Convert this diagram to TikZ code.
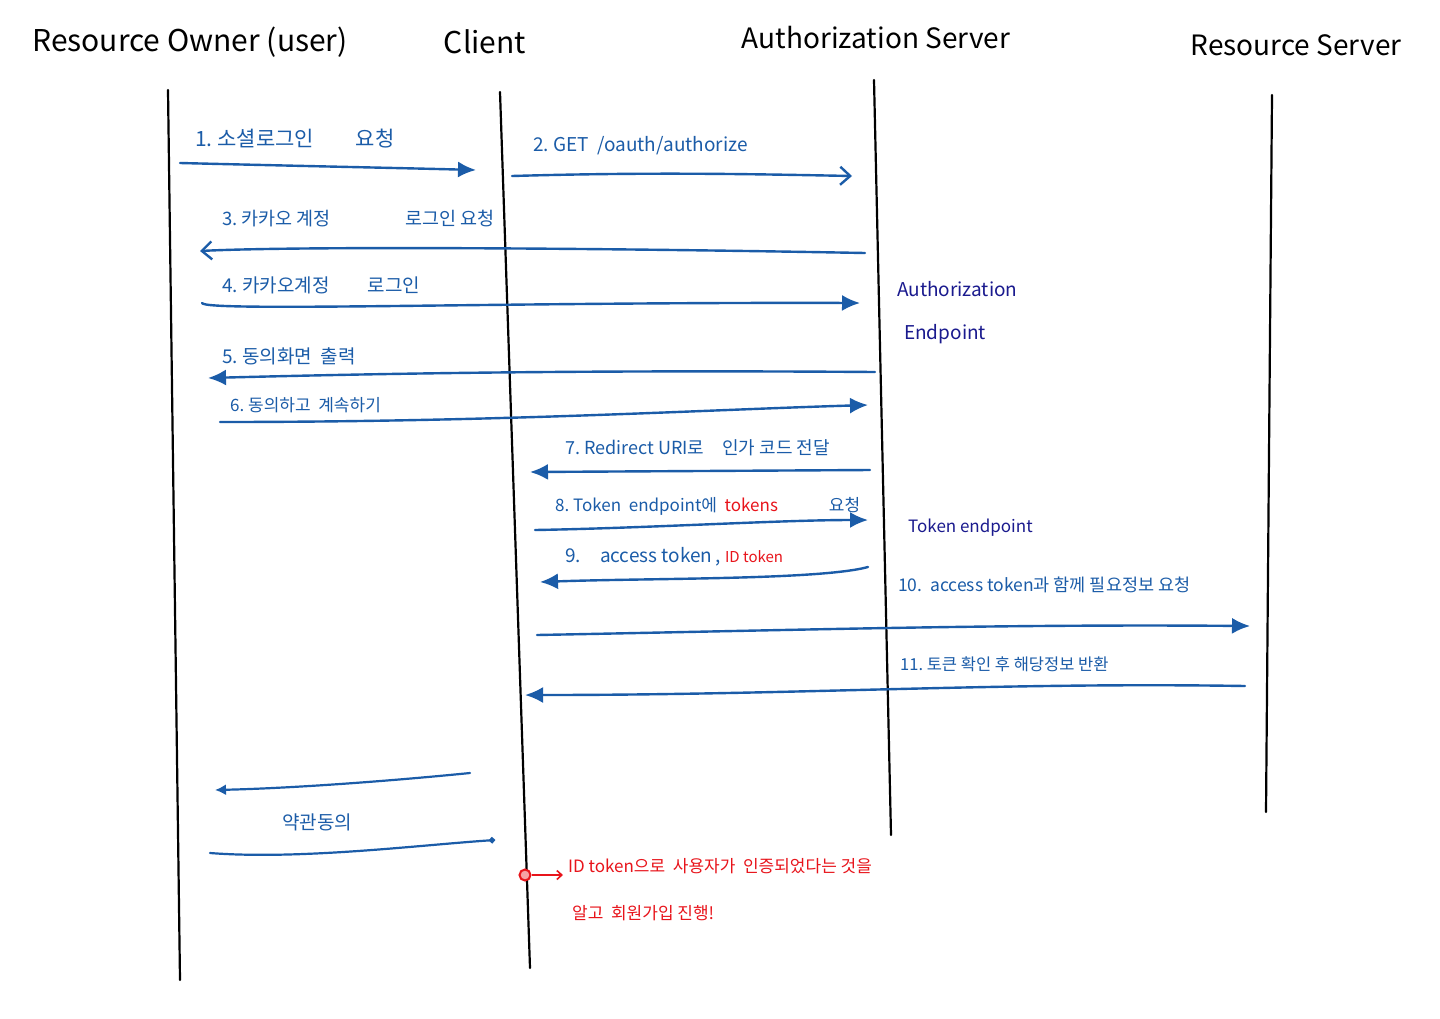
\documentclass[tikz,border=0pt]{standalone}
\usepackage{fontspec}
\setmainfont{Noto Sans CJK KR}
\usetikzlibrary{arrows.meta}
\definecolor{penblue}{HTML}{1B5CA8}
\definecolor{pennavy}{HTML}{1A1A8E}
\definecolor{penred}{HTML}{E8141B}
\tikzset{
  life/.style={draw=black, line width=2.2pt, line cap=round},
  msg/.style={draw=penblue, line width=2.4pt, line cap=round, -{Latex[length=18pt,width=16pt,fill=penblue]}},
  msgopen/.style={draw=penblue, line width=2.4pt, line cap=round, -{Straight Barb[length=10pt,width=18pt]}},
  head/.style={text=black, font=\fontsize{30}{34}\selectfont, inner sep=0pt},
  lbl/.style={text=penblue, font=\fontsize{19}{22}\selectfont, anchor=west, inner sep=0pt},
  side/.style={text=pennavy, font=\fontsize{19}{22}\selectfont, anchor=west, inner sep=0pt},
  redtxt/.style={text=penred, font=\fontsize{17}{20}\selectfont, anchor=west, inner sep=0pt},
}
\begin{document}
\begin{tikzpicture}[x=1pt,y=-1pt]
\useasboundingbox (0,0) rectangle (1440,1018);
\fill[white] (0,0) rectangle (1440,1018);

% headers
\node[head] (hRO) at (190,42) {Resource Owner (user)};
\node[head] (hC) at (485,42) {Client};
\node[head, font=\fontsize{28}{32}\selectfont] (hAS) at (876,38) {Authorization Server};
\node[head, font=\fontsize{28}{32}\selectfont] (hRS) at (1296,45) {Resource Server};

% lifelines
\coordinate (RO1) at (168,90); \coordinate (RO2) at (180,980);
\coordinate (C1) at (500,92); \coordinate (C2) at (530,968);
\coordinate (AS1) at (874,80); \coordinate (AS2) at (891,835);
\coordinate (RS1) at (1272,95); \coordinate (RS2) at (1266,812);
\draw[life] (RO1) -- (RO2);
\draw[life] (C1) -- (C2);
\draw[life] (AS1) -- (AS2);
\draw[life] (RS1) -- (RS2);

% 1
\coordinate (a1s) at (180,163); \coordinate (a1e) at (476,170);
\draw[msg] (a1s) .. controls (300,166) and (400,168) .. (a1e);
\node[lbl, font=\fontsize{21}{24}\selectfont] (l1) at (195,139) {1.\ 소셜로그인\qquad 요청};
% 2
\coordinate (a2s) at (512,176); \coordinate (a2e) at (852,176);
\draw[msgopen] (a2s) .. controls (650,172) and (750,174) .. (a2e);
\node[lbl] (l2) at (533,146) {2.\ GET\ \ /oauth/authorize};
% 3
\coordinate (a3s) at (865,253); \coordinate (a3e) at (200,251);
\draw[msgopen] (a3s) .. controls (600,248) and (300,246) .. (a3e);
\node[lbl, font=\fontsize{18.5}{22}\selectfont] (l3) at (222,219) {3.\ 카카오 계정\qquad\qquad 로그인 요청};
% 4
\coordinate (a4s) at (202,303); \coordinate (a4e) at (860,303);
\draw[msg] (a4s) .. controls (205,312) and (500,302) .. (a4e);
\node[lbl] (l4) at (222,285) {4.\ 카카오계정\qquad 로그인};
% 5
\coordinate (a5s) at (875,372); \coordinate (a5e) at (208,378);
\draw[msg] (a5s) .. controls (600,370) and (400,373) .. (a5e);
\node[lbl] (l5) at (222,356) {5.\ 동의화면\ \ 출력};
% 6
\coordinate (a6s) at (220,422); \coordinate (a6e) at (868,405);
\draw[msg] (a6s) .. controls (500,422) and (700,410) .. (a6e);
\node[lbl, font=\fontsize{17}{20}\selectfont] (l6) at (230,405) {6.\ 동의하고\ \ 계속하기};
% 7
\coordinate (a7s) at (870,470); \coordinate (a7e) at (530,472);
\draw[msg] (a7s) -- (a7e);
\node[lbl, font=\fontsize{18}{21}\selectfont] (l7) at (565,448) {7.\ Redirect URI로\quad 인가 코드\ 전달};
% 8
\coordinate (a8s) at (535,530); \coordinate (a8e) at (868,520);
\draw[msg] (a8s) .. controls (650,528) and (780,520) .. (a8e);
\node[lbl, font=\fontsize{17}{20}\selectfont] (l8) at (555,506) {8.\ Token\ \ endpoint에\ \ \textcolor{penred}{tokens}\qquad\quad 요청};
% 9
\coordinate (a9s) at (868,567); \coordinate (a9e) at (540,582);
\draw[msg] (a9s) .. controls (820,580) and (650,578) .. (a9e);
\node[lbl] (l9) at (565,557) {9.\quad access\ token\,,\ \textcolor{penred}{\fontsize{15}{18}\selectfont ID token}};
% 10
\coordinate (a10s) at (537,635); \coordinate (a10e) at (1250,626);
\draw[msg] (a10s) .. controls (800,630) and (1000,624) .. (a10e);
\node[lbl, font=\fontsize{17.5}{20}\selectfont] (l10) at (898,585) {10.\ \ access\ token과 함께\ 필요정보 요청};
% 11
\coordinate (a11s) at (1245,686); \coordinate (a11e) at (525,695);
\draw[msg] (a11s) .. controls (1000,682) and (800,695) .. (a11e);
\node[lbl, font=\fontsize{16.5}{20}\selectfont] (l11) at (900,664) {11.\ 토큰 확인 후\ 해당정보\ 반환};

% side labels
\node[side] (sAE1) at (897,289) {Authorization};
\node[side] (sAE2) at (904,334) {Endpoint};
\node[side, font=\fontsize{17}{20}\selectfont] (sTE) at (908,528) {Token endpoint};

% 약관동의
\coordinate (b1s) at (470,773); \coordinate (b1e) at (215,790);
\draw[draw=penblue, line width=2.2pt, line cap=round, -{Latex[length=11pt,width=11pt]}] (b1s) .. controls (400,780) and (300,788) .. (b1e);
\node[lbl] (lb) at (282,822) {약관동의};
\coordinate (b2s) at (210,853); \coordinate (b2e) at (495,840);
\draw[draw=penblue, line width=2.2pt, line cap=round, -{Circle[length=6pt]}] (b2s) .. controls (300,860) and (420,845) .. (b2e);

% red note
\node[circle, draw=penred, line width=2pt, fill=penred!40, minimum size=11pt, inner sep=0pt] (dot) at (525,875) {};
\coordinate (dote) at (563,875);
\draw[draw=penred, line width=1.6pt, -{Straight Barb[length=5pt,width=9pt]}] (dot.east) -- (dote);
\node[redtxt] (r1) at (568,866) {ID token으로\ \ 사용자가\ \ 인증되었다는 것을};
\node[redtxt] (r2) at (572,913) {알고\ \ 회원가입\ 진행!};
\end{tikzpicture}
\end{document}
